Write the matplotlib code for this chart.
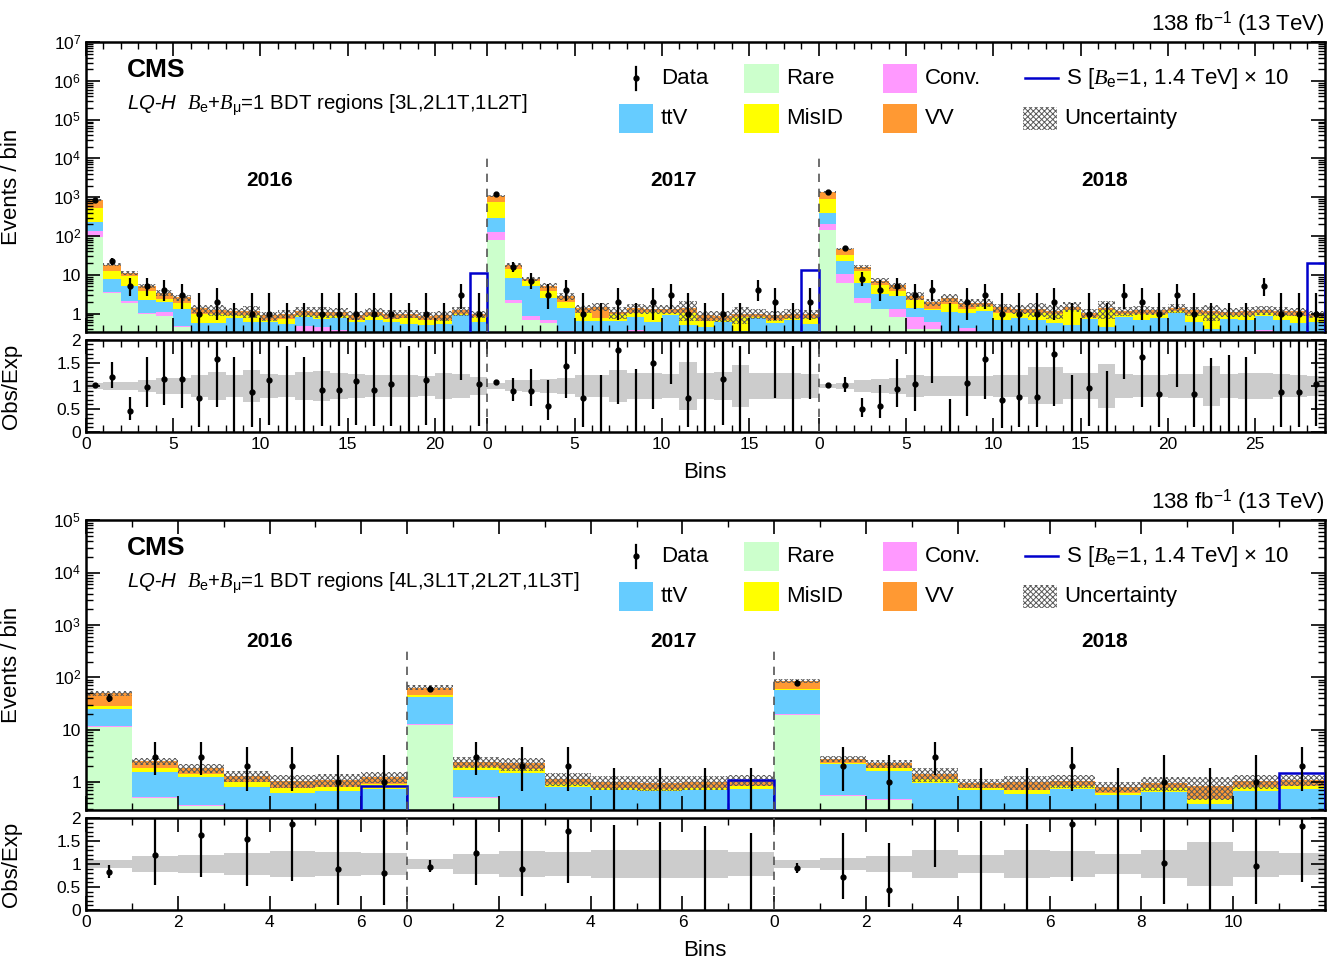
import numpy as np
import matplotlib
matplotlib.use("Agg")
import matplotlib.pyplot as plt
from matplotlib.patches import Rectangle
from matplotlib.lines import Line2D
from matplotlib.ticker import FixedLocator, MultipleLocator, LogLocator, FuncFormatter, NullFormatter

plt.rcParams['font.family'] = ['Liberation Sans', 'DejaVu Sans']
plt.rcParams['mathtext.fontset'] = 'custom'
plt.rcParams['mathtext.rm'] = 'Liberation Sans'
plt.rcParams['mathtext.it'] = 'Liberation Serif:italic'
plt.rcParams['mathtext.sf'] = 'Liberation Sans:italic'
plt.rcParams['hatch.linewidth'] = 0.7

# =========================
# colours
# =========================
C_RARE = '#ccffcc'
C_CONV = '#ff99ff'
C_TTV = '#66ccff'
C_MISID = '#ffff00'
C_VV = '#ff9933'
C_SIG = '#0000cc'
C_HATCH = '#5a5a5a'

# =========================
# top panel: 3L,2L1T,1L2T  (2016: 23 bins, 2017: 19 bins, 2018: 29 bins)
# =========================
top_rare = [94, 3.3, 1.9, 1.0, 0.85, 0.45, 0.05, 0.04, 0.03, 0.03, 0.02, 0.02, 0.02, 0.02, 0.02, 0.02, 0.02, 0.02, 0.02, 0.02, 0.02, 0.02, 0.02,
            77, 1.9, 0.67, 0.58, 0.2, 0.03, 0.03, 0.03, 0.02, 0.02, 0.02, 0.02, 0.02, 0.02, 0.02, 0.02, 0.02, 0.02, 0.02,
            145, 6.1, 1.9, 1.3, 0.8, 0.4, 0.4, 0.05, 0.03, 0.03, 0.03, 0.03, 0.03, 0.03, 0.03, 0.03, 0.03, 0.03, 0.03, 0.03, 0.03, 0.03, 0.02, 0.03, 0.03, 0.03, 0.03, 0.03, 0.03]
top_conv = [37, 0.25, 0.25, 0.05, 0.23, 0.02, 0.02, 0.02, 0.02, 0.02, 0.02, 0.02, 0.45, 0.42, 0.36, 0.03, 0.03, 0.03, 0.03, 0.03, 0.03, 0.03, 0.03,
            47, 0.27, 0.17, 0.08, 0.15, 0.02, 0.02, 0.02, 0.35, 0.03, 0.03, 0.03, 0.03, 0.03, 0.03, 0.03, 0.03, 0.03, 0.03,
            55, 4.5, 0.6, 0.02, 0.5, 0.4, 0.2, 0.03, 0.4, 0.03, 0.03, 0.03, 0.03, 0.03, 0.03, 0.03, 0.03, 0.03, 0.03, 0.03, 0.03, 0.03, 0.02, 0.03, 0.03, 0.35, 0.03, 0.03, 0.03]
top_ttv = [99, 4.0, 3.0, 1.2, 0.9, 0.85, 0.5, 0.5, 0.7, 0.55, 0.55, 0.5, 0.35, 0.3, 0.4, 0.55, 0.65, 0.55, 0.5, 0.45, 0.5, 0.85, 0.55,
           166, 6.0, 4.3, 1.9, 1.0, 0.6, 0.6, 0.6, 0.45, 0.55, 0.85, 0.45, 0.4, 0.55, 0.3, 0.7, 0.52, 0.65, 0.5,
           200, 11.4, 3.8, 1.8, 1.5, 0.55, 0.6, 1.0, 0.6, 1.1, 0.6, 0.7, 0.6, 0.5, 0.45, 0.65, 0.4, 0.75, 0.6, 0.7, 0.95, 0.55, 0.36, 0.65, 0.6, 0.5, 0.6, 0.5, 0.55]
top_misid = [300, 4.8, 4.0, 1.6, 0.4, 0.5, 0.4, 0.4, 0.15, 0.3, 0.1, 0.2, 0.1, 0.12, 0.1, 0.1, 0.15, 0.12, 0.2, 0.18, 0.15, 0.1, 0.2,
             450, 5.5, 1.6, 1.2, 0.6, 0.4, 0.1, 0.3, 0.2, 0.5, 0.15, 0.55, 0.2, 0.1, 0.45, 0.05, 0.1, 0.05, 0.2,
             500, 11, 6.0, 2.3, 1.1, 0.85, 0.07, 0.7, 0.3, 0.4, 0.4, 0.3, 0.4, 0.4, 0.75, 0.1, 0.75, 0.15, 0.3, 0.2, 0.15, 0.35, 0.55, 0.2, 0.25, 0.15, 0.25, 0.3, 0.2]
top_vv = [315, 6.0, 2.0, 1.3, 1.1, 0.8, 0.4, 0.3, 0.25, 0.25, 0.2, 0.26, 0.23, 0.24, 0.22, 0.2, 0.25, 0.25, 0.25, 0.2, 0.2, 0.2, 0.16,
          350, 4.3, 1.2, 1.5, 0.85, 0.3, 0.75, 0.17, 0.35, 0.23, 0.25, 0.3, 0.25, 0.17, 0.2, 0.2, 0.25, 0.25, 0.2,
          460, 14, 3.7, 1.6, 1.4, 0.7, 0.68, 0.8, 0.57, 0.34, 0.4, 0.25, 0.27, 0.22, 0.24, 0.24, 0.19, 0.2, 0.27, 0.24, 0.22, 0.24, 0.21, 0.21, 0.24, 0.22, 0.25, 0.29, 0.15]
top_data = [870, 22, 5, 5, 4, 3, 1, 2, 0, 1, 1, 0, 0, 1, 1, 1, 1, 1, 0, 1, 0, 3, 1,
            1190, 16, 7, 3, 4, 1, 0, 2, 0, 2, 3, 1, 0, 1, 0, 4, 2, 0, 2,
            1400, 48, 8, 4, 5, 3, 4, 0, 2, 3, 1, 1, 1, 2, 0, 1, 0, 3, 2, 1, 3, 1, 0, 0, 0, 5, 1, 1, 1]
top_signal = [0.01, 0.01, 0.01, 0.01, 0.01, 0.01, 0.01, 0.01, 0.01, 0.01, 0.01, 0.01, 0.01, 0.01, 0.01, 0.01, 0.01, 0.01, 0.01, 0.01, 0.01, 0.01, 11,
              0.01, 0.01, 0.01, 0.01, 0.01, 0.01, 0.01, 0.01, 0.01, 0.01, 0.01, 0.01, 0.01, 0.01, 0.01, 0.01, 0.01, 0.01, 13.5,
              0.01, 0.01, 0.01, 0.01, 0.01, 0.01, 0.01, 0.01, 0.01, 0.01, 0.01, 0.01, 0.01, 0.01, 0.01, 0.01, 0.01, 0.01, 0.01, 0.01, 0.01, 0.01, 0.01, 0.01, 0.01, 0.01, 0.01, 0.01, 20]
top_unc = [0.06, 0.09, 0.09, 0.13, 0.18, 0.18, 0.24, 0.31, 0.24, 0.34, 0.26, 0.24, 0.31, 0.32, 0.29, 0.26, 0.24, 0.24, 0.24, 0.21, 0.29, 0.26, 0.19,
           0.07, 0.12, 0.13, 0.16, 0.18, 0.23, 0.24, 0.34, 0.28, 0.28, 0.26, 0.52, 0.29, 0.31, 0.45, 0.28, 0.29, 0.28, 0.26,
           0.045, 0.07, 0.13, 0.15, 0.18, 0.24, 0.22, 0.22, 0.22, 0.22, 0.24, 0.24, 0.4, 0.4, 0.29, 0.28, 0.47, 0.26, 0.24, 0.24, 0.26, 0.26, 0.44, 0.26, 0.28, 0.28, 0.25, 0.24, 0.22]
top_years = [23, 19, 29]
top_tick_labels = ['0', '5', '10', '15', '20', '0', '5', '10', '15', '0', '5', '10', '15', '20', '25']

# =========================
# bottom panel: 4L,3L1T,2L2T,1L3T  (2016: 7 bins, 2017: 8 bins, 2018: 12 bins)
# =========================
bot_rare = [11.5, 0.5, 0.35, 0.05, 0.03, 0.03, 0.02,
            12.4, 0.5, 0.2, 0.03, 0.03, 0.03, 0.03, 0.03,
            19.5, 0.55, 0.45, 0.03, 0.02, 0.03, 0.02, 0.02, 0.02, 0.02, 0.02, 0.02]
bot_conv = [0.4, 0.02, 0.02, 0.02, 0.02, 0.02, 0.02,
            0.4, 0.02, 0.02, 0.02, 0.02, 0.02, 0.02, 0.02,
            0.4, 0.02, 0.02, 0.02, 0.02, 0.02, 0.02, 0.02, 0.02, 0.02, 0.02, 0.02]
bot_ttv = [12.5, 1.05, 0.86, 0.73, 0.58, 0.62, 0.7,
           28.5, 1.2, 1.3, 0.75, 0.65, 0.62, 0.65, 0.7,
           37, 1.6, 1.15, 0.9, 0.68, 0.55, 0.7, 0.52, 0.6, 0.34, 0.65, 0.7]
bot_misid = [4.5, 0.3, 0.22, 0.2, 0.15, 0.12, 0.2,
             4.5, 0.25, 0.25, 0.12, 0.08, 0.08, 0.08, 0.1,
             4, 0.18, 0.25, 0.2, 0.05, 0.1, 0.1, 0.06, 0.12, 0.1, 0.12, 0.12]
bot_vv = [20.5, 0.63, 0.4, 0.3, 0.29, 0.33, 0.31,
          18, 0.45, 0.5, 0.24, 0.23, 0.23, 0.24, 0.26,
          26, 0.45, 0.4, 0.3, 0.2, 0.3, 0.23, 0.2, 0.22, 0.38, 0.24, 0.24]
bot_data = [41, 3, 3, 2, 2, 1, 1,
            60, 3, 2, 2, 0, 0, 0, 0,
            79, 2, 1, 3, 0, 0, 2, 0, 1, 0, 1, 2]
bot_signal = [0.01, 0.01, 0.01, 0.01, 0.01, 0.01, 0.84,
              0.01, 0.01, 0.01, 0.01, 0.01, 0.01, 0.01, 1.1,
              0.01, 0.01, 0.01, 0.01, 0.01, 0.01, 0.01, 0.01, 0.01, 0.01, 0.01, 1.5]
bot_unc = [0.094, 0.17, 0.19, 0.24, 0.29, 0.27, 0.24,
           0.11, 0.22, 0.29, 0.26, 0.31, 0.31, 0.3, 0.25,
           0.083, 0.14, 0.18, 0.3, 0.2, 0.3, 0.28, 0.22, 0.3, 0.47, 0.29, 0.24]
bot_years = [7, 8, 12]
bot_tick_labels = ['0', '2', '4', '6', '0', '2', '4', '6', '0', '2', '4', '6', '8', '10']


def year_ticks(years, step):
    pos = []
    start = 0
    for n in years:
        pos += list(range(start, start + n, step))
        start += n
    return pos


def log_label(v, p):
    if v == 1:
        return '1'
    if v == 10:
        return '10'
    return r'$10^{%d}$' % round(np.log10(v))


def draw_legend(ax):
    fs = 16
    y1, y2 = 0.876, 0.738
    h, w = 0.10, 0.028
    tr = ax.transAxes
    # Data
    ax.add_line(Line2D([0.444, 0.444], [y1 - 0.04, y1 + 0.04], transform=tr, color='k', lw=1.6))
    ax.add_line(Line2D([0.444], [y1], transform=tr, color='k', marker='o', ms=3.5, lw=0))
    ax.text(0.464, y1, 'Data', transform=tr, fontsize=fs, va='center')
    boxes = [
        (0.531, y1, C_RARE, None, 'Rare'),
        (0.643, y1, C_CONV, None, 'Conv.'),
        (0.430, y2, C_TTV, None, 'ttV'),
        (0.531, y2, C_MISID, None, 'MisID'),
        (0.643, y2, C_VV, None, 'VV'),
        (0.756, y2, 'none', 'xxxxxx', 'Uncertainty'),
    ]
    for x0, yc, col, hat, lab in boxes:
        if hat:
            ax.add_patch(Rectangle((x0, yc - h / 2 + 0.01), w, h - 0.02, transform=tr, facecolor='none',
                                   hatch=hat, edgecolor=C_HATCH, linewidth=0))
        else:
            ax.add_patch(Rectangle((x0, yc - h / 2), w, h, transform=tr, facecolor=col, edgecolor='none'))
        ax.text(x0 + w + 0.006, yc, lab, transform=tr, fontsize=fs, va='center')
    ax.add_line(Line2D([0.758, 0.785], [y1, y1], transform=tr, color=C_SIG, lw=1.8))
    ax.text(0.791, y1, r'S [$B_{\rm e}$=1, 1.4 TeV] $\times$ 10', transform=tr, fontsize=fs, va='center')


def draw_panel(ax, axr, rare, conv, ttv, misid, vv, data, signal, unc, years, labels, step,
               ymin, ymax, decades, region, year_y, sep_top):
    data = np.array(data, dtype=float)
    unc = np.array(unc)
    n = len(data)
    x = np.arange(n)
    ax.set_yscale('log')
    bottom = np.zeros(n)
    for vals, col in [(rare, C_RARE), (conv, C_CONV), (ttv, C_TTV), (misid, C_MISID), (vv, C_VV)]:
        vals = np.array(vals)
        ax.bar(x, vals, width=1, bottom=bottom, align='edge', color=col, linewidth=0)
        bottom = bottom + vals
    total = bottom
    ax.bar(x, 2 * unc * total, bottom=total * (1 - unc), width=1, align='edge', fill=False,
           hatch='xxxxxx', edgecolor=C_HATCH, linewidth=0)
    ax.stairs(signal, np.arange(n + 1), color=C_SIG, lw=1.8, zorder=4)

    # Poisson (Garwood-like) intervals
    pos = data > 0
    lo = np.where(pos, data - np.sqrt(np.clip(data - 0.25, 0, None)), 0)
    hi = data + 1 + np.sqrt(data + 0.75)
    ax.errorbar(x[pos] + 0.5, data[pos], yerr=[data[pos] - lo[pos], hi[pos] - data[pos]],
                fmt='o', color='k', ms=3.5, elinewidth=1.6, capsize=0, zorder=5)
    ax.vlines(x[~pos] + 0.5, ymin * 0.1, hi[~pos], color='k', lw=1.6, zorder=5)

    # ratio
    axr.bar(x, 2 * unc, bottom=1 - unc, width=1, align='edge', color='#cccccc', linewidth=0)
    r = data / total
    axr.errorbar(x[pos] + 0.5, r[pos], yerr=[(data[pos] - lo[pos]) / total[pos], (hi[pos] - data[pos]) / total[pos]],
                 fmt='o', color='k', ms=3.5, elinewidth=1.6, capsize=0, zorder=5)
    axr.vlines(x[~pos] + 0.5, 0, hi[~pos] / total[~pos], color='k', lw=1.6, zorder=5)

    ax.set_xlim(0, n)
    axr.set_xlim(0, n)
    ax.set_ylim(ymin, ymax)
    axr.set_ylim(0, 2)

    # separators and year labels
    edges = np.cumsum(years)[:-1]
    for e in edges:
        ax.axvline(e, ymin=0, ymax=sep_top, color='#555555', ls=(0, (5, 4)), lw=1.2, zorder=6)
        axr.axvline(e, color='#555555', ls=(0, (5, 4)), lw=1.2, zorder=6)
    for xf, yr in zip([0.1485, 0.4746, 0.8224], ['2016', '2017', '2018']):
        ax.text(xf, year_y, yr, transform=ax.transAxes, fontsize=15, fontweight='bold', ha='center', va='center')

    # ticks
    majors = year_ticks(years, step)
    for a in (ax, axr):
        a.xaxis.set_major_locator(FixedLocator(majors))
        a.xaxis.set_minor_locator(MultipleLocator(1))
        a.tick_params(which='both', direction='in', top=True, right=True, labelsize=12.5)
        a.tick_params(which='major', length=10, width=1.2)
        a.tick_params(which='minor', length=5, width=1.0)
        for s in a.spines.values():
            s.set_linewidth(1.8)
    ax.tick_params(labelbottom=False)
    axr.set_xticklabels(labels)
    ax.yaxis.set_major_locator(FixedLocator(decades))
    ax.yaxis.set_major_formatter(FuncFormatter(log_label))
    ax.yaxis.set_minor_locator(LogLocator(base=10, subs=np.arange(2, 10), numticks=50))
    ax.yaxis.set_minor_formatter(NullFormatter())
    axr.yaxis.set_major_locator(FixedLocator([0, 0.5, 1, 1.5, 2]))
    axr.yaxis.set_major_formatter(FuncFormatter(lambda v, p: '%g' % v))
    axr.yaxis.set_minor_locator(MultipleLocator(0.1))

    ax.set_ylabel('Events / bin', fontsize=16)
    axr.set_ylabel('Obs/Exp', fontsize=16)
    ax.yaxis.set_label_coords(-0.052, 0.5)
    axr.yaxis.set_label_coords(-0.052, 0.5)

    # texts
    ax.text(0.033, 0.903, 'CMS', transform=ax.transAxes, fontsize=19, fontweight='bold', va='center')
    ax.text(0.033, 0.783, r'$\mathsf{LQ}$-$\mathsf{H}$  $B_{\rm e}$+$B_{\mathrm{\mu}}$=1 BDT regions ' + region,
            transform=ax.transAxes, fontsize=14.7, va='center')
    ax.text(1.0, 1.062, r'138 fb$^{-1}$ (13 TeV)', transform=ax.transAxes, fontsize=16, ha='right', va='center')
    draw_legend(ax)


fig = plt.figure(figsize=(13.35, 9.6), dpi=100)
ax1 = fig.add_axes([0.0644, 0.654, 0.928, 0.302])
ax1r = fig.add_axes([0.0644, 0.55, 0.928, 0.096])
ax2 = fig.add_axes([0.0644, 0.156, 0.928, 0.302])
ax2r = fig.add_axes([0.0644, 0.052, 0.928, 0.096])

draw_panel(ax1, ax1r, top_rare, top_conv, top_ttv, top_misid, top_vv, top_data, top_signal, top_unc,
           top_years, top_tick_labels, 5, 0.33, 1e7, [1, 10, 1e2, 1e3, 1e4, 1e5, 1e6, 1e7],
           '[3L,2L1T,1L2T]', 0.524, 0.61)
draw_panel(ax2, ax2r, bot_rare, bot_conv, bot_ttv, bot_misid, bot_vv, bot_data, bot_signal, bot_unc,
           bot_years, bot_tick_labels, 2, 0.29, 1e5, [1, 10, 1e2, 1e3, 1e4, 1e5],
           '[4L,3L1T,2L2T,1L3T]', 0.583, 0.57)

fig.text(705 / 1335, 1 - 473 / 960, 'Bins', fontsize=16, ha='center', va='center')
fig.text(705 / 1335, 1 - 950 / 960, 'Bins', fontsize=16, ha='center', va='center')

fig.savefig('out.png', dpi=100)
